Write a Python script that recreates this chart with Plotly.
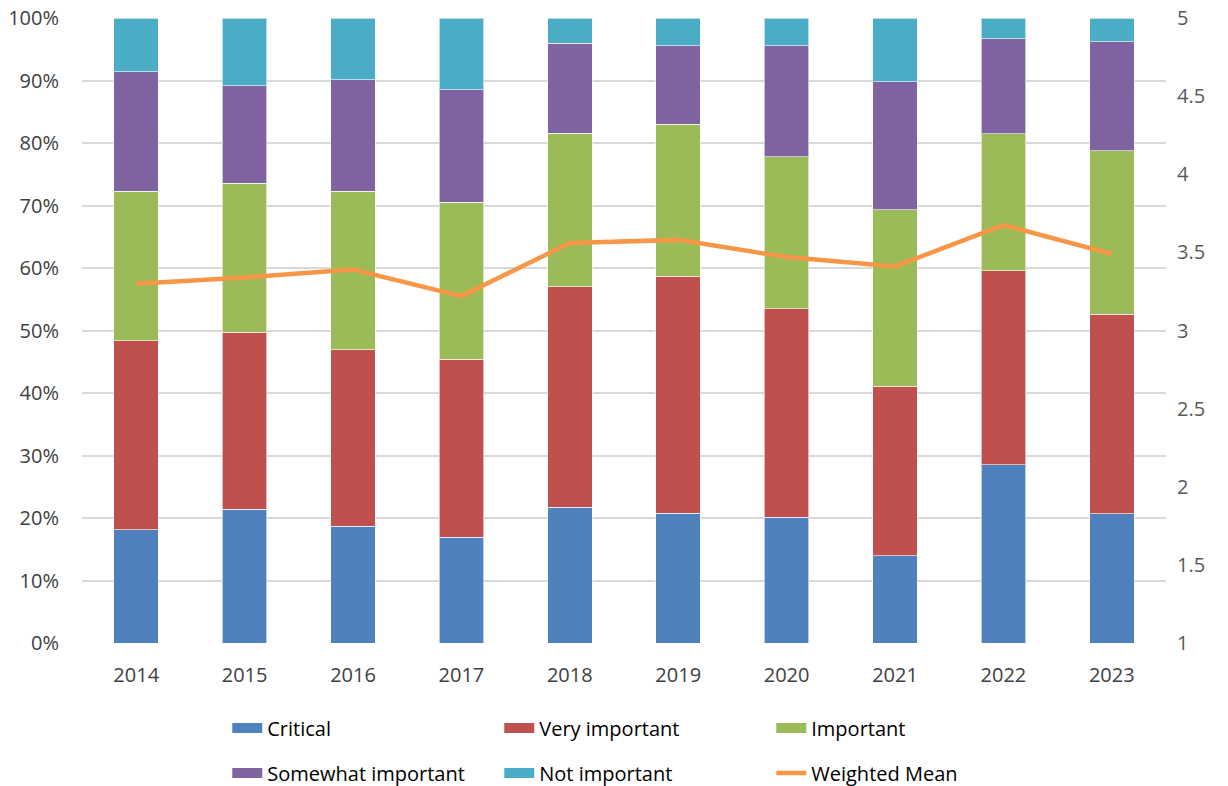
import plotly.graph_objects as go

years = ["2014", "2015", "2016", "2017", "2018", "2019", "2020", "2021", "2022", "2023"]
critical = [18.1, 21.4, 18.7, 16.9, 21.7, 20.75, 20.1, 14.0, 28.5, 20.7]
very_important = [30.3, 28.3, 28.2, 28.5, 35.3, 37.95, 33.4, 27.1, 31.1, 31.9]
important = [23.9, 23.9, 25.4, 25.1, 24.6, 24.3, 24.3, 28.2, 21.9, 26.2]
somewhat_important = [19.1, 15.6, 17.8, 18.0, 14.4, 12.6, 17.8, 20.5, 15.2, 17.4]
not_important = [8.6, 10.8, 9.9, 11.5, 4.0, 4.4, 4.4, 10.2, 3.3, 3.8]
weighted_mean = [3.30, 3.34, 3.39, 3.22, 3.56, 3.58, 3.47, 3.41, 3.675, 3.49]

series = [
    ("Critical", critical, "#4F81BD", "legend"),
    ("Very important", very_important, "#C0504D", "legend"),
    ("Important", important, "#9BBB59", "legend"),
    ("Somewhat important", somewhat_important, "#8064A2", "legend2"),
    ("Not important", not_important, "#4BACC6", "legend2"),
]

FONT = "Open Sans"
fig = go.Figure()
for name, vals, color, leg in series:
    fig.add_trace(go.Bar(
        x=years, y=[v / 100 for v in vals], name=name, legendgroup=name,
        showlegend=False,
        marker=dict(color=color, line=dict(color="rgba(255,255,255,0.6)", width=1)),
    ))
    # legend entry drawn as a wide colour swatch
    fig.add_trace(go.Scatter(
        x=[None], y=[None], name=name, legendgroup=name, legend=leg,
        mode="lines", line=dict(color=color, width=10), hoverinfo="skip",
    ))
fig.add_trace(go.Scatter(
    x=years, y=weighted_mean, name="Weighted Mean", yaxis="y2", legend="legend2",
    mode="lines", line=dict(color="#F79646", width=4.5),
))

leg_common = dict(orientation="h", x=0.134, xanchor="left", yanchor="middle",
                  traceorder="normal", entrywidth=227, entrywidthmode="pixels",
                  font=dict(family=FONT, size=20, color="#000000"),
                  bgcolor="rgba(0,0,0,0)")

fig.update_layout(
    width=1228, height=786,
    margin=dict(l=82, r=62, t=18, b=143, autoexpand=False),
    barmode="stack", bargap=0.59,
    plot_bgcolor="white", paper_bgcolor="white",
    font=dict(family=FONT, size=20, color="#404040"),
    xaxis=dict(showgrid=False, showline=False, ticks="", ticklabelstandoff=18,
               automargin=False, tickfont=dict(size=20, color="#404040")),
    yaxis=dict(range=[0, 1], dtick=0.1, tickformat=".0%", showgrid=True,
               gridcolor="#D9D9D9", gridwidth=1.5, zeroline=False, showline=False,
               automargin=False, ticklabelstandoff=22,
               tickfont=dict(size=20, color="#404040")),
    yaxis2=dict(range=[1, 5], dtick=0.5, overlaying="y", side="right",
                showgrid=False, zeroline=False, showline=False, automargin=False,
                ticklabelstandoff=10, tickfont=dict(size=20, color="#595959")),
    legend=dict(y=-0.136, **leg_common),
    legend2=dict(y=-0.208, **leg_common),
    showlegend=True,
)

fig.write_html("out.html")
